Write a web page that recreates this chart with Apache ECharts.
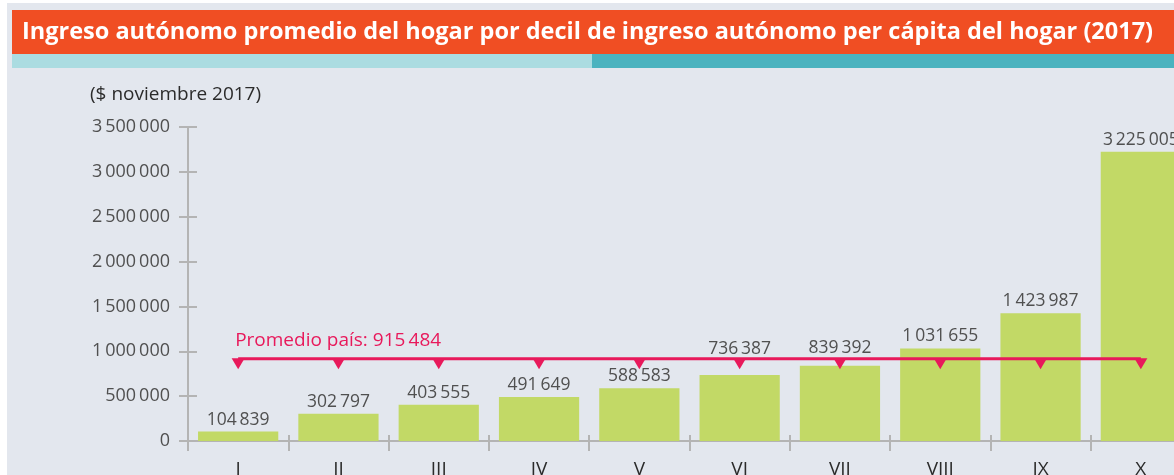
<!DOCTYPE html>
<html>
<head>
<meta charset="utf-8">
<script src="https://cdn.jsdelivr.net/npm/echarts@6/dist/echarts.min.js"></script>
<style>
  html, body { margin: 0; padding: 0; background: #fff; }
  #chart { width: 1174px; height: 475px; }
</style>
</head>
<body>
<div id="chart"></div>
<script>
// deciles de ingreso autónomo per cápita
const deciles = ["I", "II", "III", "IV", "V", "VI", "VII", "VIII", "IX", "X"];
const ingresoPromedio = [104839, 302797, 403555, 491649, 588583, 736387, 839392, 1031655, 1423987, 3225005];
const promedioPais = 915484;
const yTicks = { min: 0, max: 3500000, interval: 500000 };

const titulo = "Ingreso autónomo promedio del hogar por decil de ingreso autónomo per cápita del hogar (2017)";
const unidad = "($ noviembre 2017)";

const FONT = "'Open Sans', 'Noto Sans', sans-serif";
const fmt = (v) => String(v).replace(/\B(?=(\d{3})+(?!\d))/g, "\u2009");

// labels that sit on the average line get lifted above it
const labelLift = { VI: 14, VII: 6 };

const chart = echarts.init(document.getElementById("chart"), null, { renderer: "canvas" });

chart.setOption({
  animation: false,
  backgroundColor: "#fff",
  graphic: [
    { type: "rect", shape: { x: 7, y: 3, width: 1167, height: 472 }, style: { fill: "#E3E7EE" }, z: -10 },
    { type: "rect", shape: { x: 12, y: 10, width: 1162, height: 44 }, style: { fill: "#F04E23" } },
    { type: "rect", shape: { x: 12, y: 54, width: 580, height: 14 }, style: { fill: "#ABDCE1" } },
    { type: "rect", shape: { x: 592, y: 54, width: 582, height: 14 }, style: { fill: "#4BB3BF" } },
    {
      type: "text", left: 22, top: 20,
      style: { text: titulo, fill: "#fff", font: "bold 23.5px " + FONT }
    },
    {
      type: "text", left: 90, top: 85,
      style: { text: unidad, fill: "#2b2b2b", font: "500 19px " + FONT }
    }
  ],
  grid: { left: 188, right: -17, top: 127, bottom: 34, outerBoundsMode: "none", containLabel: false },
  xAxis: [
    {
      type: "category",
      data: deciles,
      axisLine: { lineStyle: { color: "#B4B4B4", width: 2 } },
      axisTick: { show: true, length: 10, lineStyle: { color: "#B4B4B4", width: 2 } },
      axisLabel: { color: "#2b2b2b", fontSize: 19, fontFamily: FONT, margin: 19 }
    },
    {
      type: "category",
      data: deciles,
      position: "bottom",
      axisLine: { show: false },
      axisTick: { show: true, inside: true, length: 6, lineStyle: { color: "#B4B4B4", width: 2 } },
      axisLabel: { show: false }
    }
  ],
  yAxis: [
    {
      type: "value",
      min: yTicks.min, max: yTicks.max, interval: yTicks.interval,
      axisLine: { show: true, lineStyle: { color: "#B4B4B4", width: 2 } },
      axisTick: { show: true, length: 9, lineStyle: { color: "#B4B4B4", width: 2 } },
      splitLine: { show: false },
      axisLabel: { color: "#505050", fontSize: 18, fontFamily: FONT, margin: 18, formatter: fmt }
    },
    {
      type: "value",
      position: "left",
      min: yTicks.min, max: yTicks.max, interval: yTicks.interval,
      axisLine: { show: false },
      axisTick: { show: true, inside: true, length: 9, lineStyle: { color: "#B4B4B4", width: 2 } },
      splitLine: { show: false },
      axisLabel: { show: false }
    }
  ],
  series: [
    {
      type: "bar",
      data: ingresoPromedio.map((v, i) => (labelLift[deciles[i]]
        ? { value: v, label: { distance: 3 + labelLift[deciles[i]] } }
        : v)),
      barCategoryGap: "20%",
      itemStyle: { color: "#C2D966" },
      label: {
        show: true, position: "top", distance: 3,
        color: "#505050", fontSize: 17.5, fontFamily: FONT,
        formatter: (p) => fmt(p.value)
      }
    },
    {
      type: "line",
      data: deciles.map((d, i) => (i === 0 ? {
        value: promedioPais,
        label: {
          show: true, position: "top", align: "left", offset: [-3, -3],
          formatter: "Promedio país: " + fmt(promedioPais),
          color: "#E8195B", fontSize: 19, fontFamily: FONT
        }
      } : promedioPais)),
      symbol: "triangle",
      symbolRotate: 180,
      symbolSize: [13, 11],
      symbolOffset: [0, 5],
      showSymbol: true,
      itemStyle: { color: "#E8195B" },
      lineStyle: { color: "#E8195B", width: 3 },
      z: 5
    }
  ]
});
</script>
</body>
</html>
